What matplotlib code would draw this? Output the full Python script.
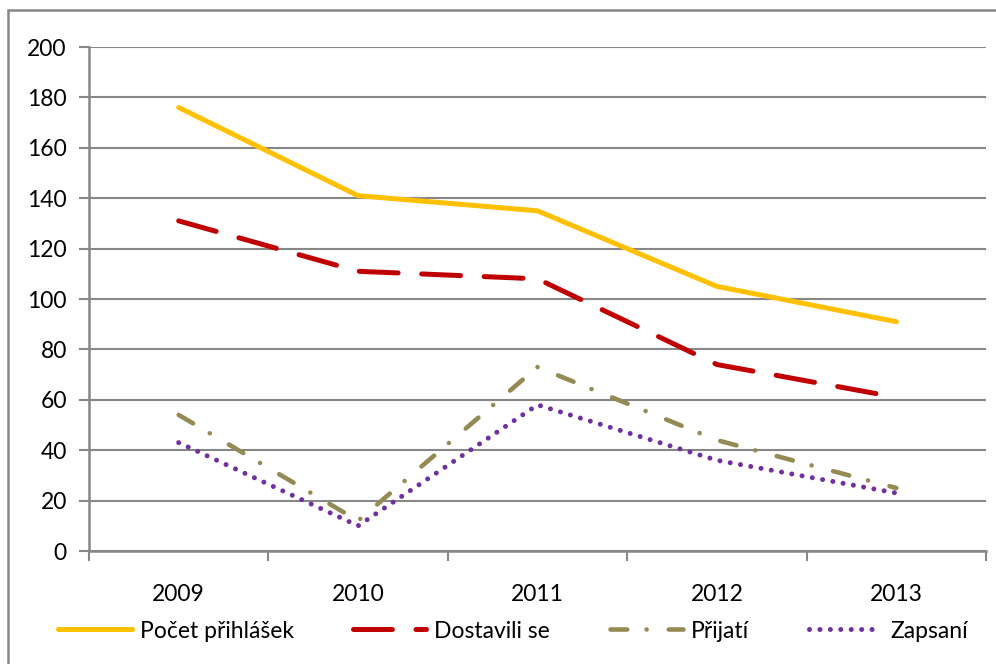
import matplotlib
matplotlib.use("Agg")
import matplotlib.pyplot as plt
from matplotlib.patches import Rectangle
import numpy as np

years = ["2009", "2010", "2011", "2012", "2013"]
prihlasek = [176, 141, 135, 105, 91]
dostavili = [131, 111, 108, 74, 61]
prijati = [54, 12, 73, 44, 25]
zapsani = [43, 10, 58, 36, 23]
y_ticks = [0, 20, 40, 60, 80, 100, 120, 140, 160, 180, 200]

plt.rcParams['font.family'] = ['Lato', 'DejaVu Sans']
plt.rcParams['lines.scale_dashes'] = False

W, H = 996, 664
fig = plt.figure(figsize=(W / 100, H / 100), dpi=100)
ax = fig.add_axes([89 / W, 1 - 551 / H, (986 - 89) / W, (551 - 47) / H])

grid_c = "#878787"
x = np.arange(len(years))
lw = 3.6
ax.plot(x, prihlasek, color="#FFC000", lw=lw, solid_capstyle="round",
        solid_joinstyle="round", label="Počet přihlášek", zorder=3)
ax.plot(x, dostavili, color="#C00000", lw=lw, dash_capstyle="round",
        linestyle=(0, (28, 17)), label="Dostavili se", zorder=3)
ax.plot(x, prijati, color="#948A54", lw=3.3, dash_capstyle="round",
        linestyle=(0, (12, 14, 0.01, 16)), label="Přijatí", zorder=3)
ax.plot(x, zapsani, color="#7030A0", lw=3.6, dash_capstyle="round",
        linestyle=(0, (0.01, 7.5)), label="Zapsaní", zorder=3)

ax.set_xlim(-0.5, len(years) - 0.5)
ax.set_ylim(0, 200)
ax.set_yticks(y_ticks)
ax.set_yticklabels([str(v) for v in y_ticks])
ax.set_xticks(x)
ax.set_xticklabels(years)
ax.set_xticks(np.arange(-0.5, len(years)), minor=True)
ax.tick_params(axis='x', which='major', length=0, pad=24, labelsize=16.5)
ax.tick_params(axis='x', which='minor', length=7, width=1.5, color=grid_c, direction='out')
ax.tick_params(axis='y', length=7, width=1.5, color=grid_c, pad=9, labelsize=16.5)
ax.yaxis.grid(True, color=grid_c, lw=1.5)
ax.set_axisbelow(True)
for s in ['top', 'right']:
    ax.spines[s].set_visible(False)
for s in ['left', 'bottom']:
    ax.spines[s].set_color(grid_c)
    ax.spines[s].set_linewidth(1.8)

leg = fig.legend(loc='center', bbox_to_anchor=(513 / W, 1 - 631 / H), ncol=4,
                 frameon=False, fontsize=16.5, handlelength=3.2, handletextpad=0.35,
                 columnspacing=2.6)

fig.patches.append(Rectangle((8 / W, -0.1), 1.2, 1.1 - 10 / H, transform=fig.transFigure,
                             fill=False, edgecolor=grid_c, lw=1.8))

fig.savefig("out.png", dpi=100)
